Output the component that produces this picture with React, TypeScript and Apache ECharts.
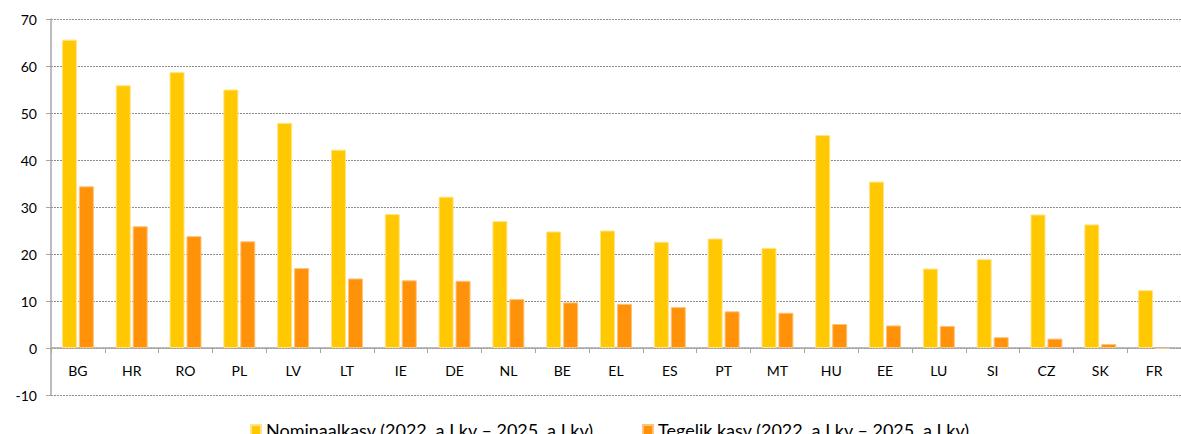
import React, { useEffect, useRef } from "react";
import * as echarts from "echarts";

const categories = ["BG", "HR", "RO", "PL", "LV", "LT", "IE", "DE", "NL", "BE", "EL", "ES", "PT", "MT", "HU", "EE", "LU", "SI", "CZ", "SK", "FR"];
const nominal = [65.6, 55.9, 58.7, 55.0, 47.9, 42.2, 28.5, 32.2, 27.0, 24.8, 25.0, 22.6, 23.3, 21.3, 45.3, 35.4, 16.9, 18.9, 28.4, 26.3, 12.3];
const real = [34.4, 25.9, 23.8, 22.7, 17.0, 14.8, 14.4, 14.3, 10.4, 9.7, 9.4, 8.7, 7.8, 7.5, 5.1, 4.8, 4.7, 2.3, 2.0, 0.85, -0.2];
const seriesNames = ["Nominaalkasv (2022. a I kv – 2025. a I kv)", "Tegelik kasv (2022. a I kv – 2025. a I kv)"];

export default function App() {
  const ref = useRef<HTMLDivElement>(null);
  useEffect(() => {
    if (!ref.current) return;
    const chart = echarts.init(ref.current, null, { renderer: "svg" });
    const font = "Lato, 'Open Sans', sans-serif";
    chart.setOption({
      animation: false,
      textStyle: { fontFamily: font },
      grid: { left: 51, top: 19, right: -10, bottom: 39, containLabel: false },
      legend: {
        top: 416,
        left: 245,
        itemWidth: 10,
        itemHeight: 10,
        itemGap: 48,
        icon: "rect",
        textStyle: { fontSize: 18, color: "#000", fontFamily: font },
        data: seriesNames,
      },
      xAxis: {
        type: "category",
        data: categories,
        axisLine: { onZero: true, lineStyle: { color: "#a6a6a6", width: 1.5 } },
        axisTick: { show: true, alignWithLabel: false, interval: 0, length: 5, lineStyle: { color: "#a6a6a6" } },
        axisLabel: { interval: 0, fontSize: 14, color: "#000", margin: -32, fontFamily: font },
      },
      yAxis: {
        type: "value",
        min: -10,
        max: 70,
        interval: 10,
        axisLine: { show: true, lineStyle: { color: "#a6a6a6", width: 1.5 } },
        axisTick: { show: true, length: 5, lineStyle: { color: "#a6a6a6" } },
        axisLabel: { fontSize: 14, color: "#000", margin: 14, fontFamily: font },
        splitLine: { show: true, lineStyle: { color: "#8c8c8c", type: [2, 1], width: 1 } },
      },
      series: [
        {
          name: seriesNames[0],
          type: "bar",
          data: nominal,
          barWidth: 15,
          barGap: "13%",
          itemStyle: { color: "#FFC800", borderColor: "#FFE38A", borderWidth: 1 },
        },
        {
          name: seriesNames[1],
          type: "bar",
          data: real,
          barWidth: 15,
          barGap: "13%",
          itemStyle: { color: "#FF9208", borderColor: "#FFC27A", borderWidth: 1 },
        },
      ],
    });
    return () => chart.dispose();
  }, []);
  return <div ref={ref} style={{ position: "absolute", left: 0, top: 0, width: 1181, height: 434 }} />;
}
